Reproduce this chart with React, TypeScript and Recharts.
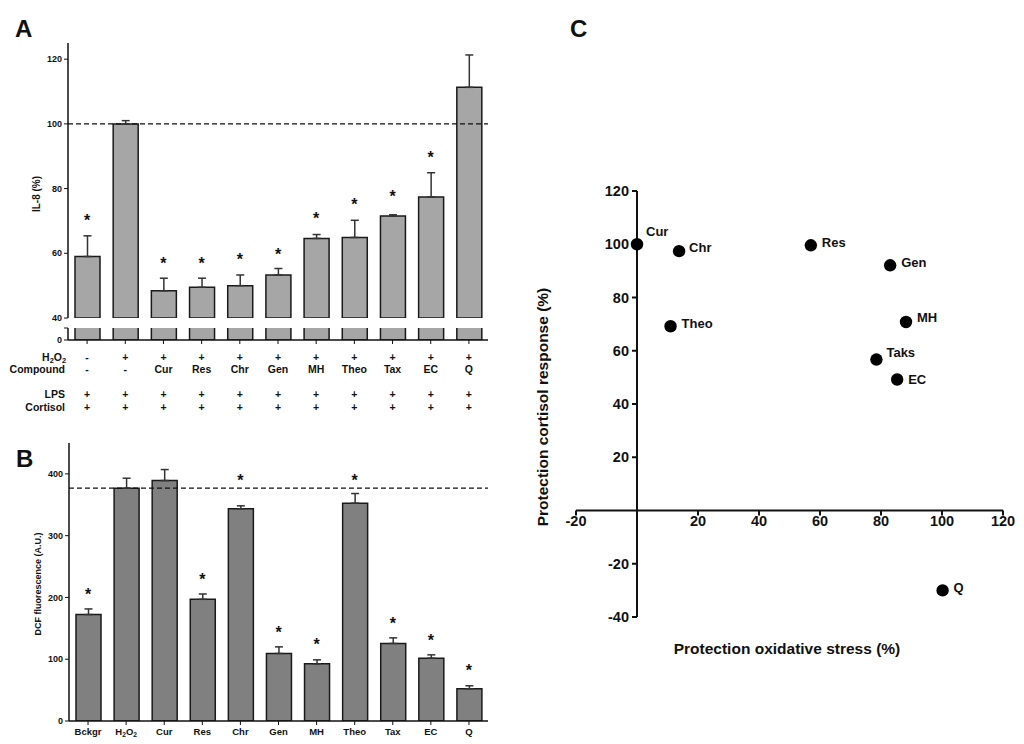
import React from "react";
import {
  ComposedChart,
  ScatterChart,
  Bar,
  Scatter,
  XAxis,
  YAxis,
  ErrorBar,
  ReferenceLine,
  ReferenceDot,
} from "recharts";

const FONT = "'Liberation Sans', Arial, sans-serif";
const INK = "#111";

// shared categories (panels A and B)
const groups = ["Bckgr", "H2O2", "Cur", "Res", "Chr", "Gen", "MH", "Theo", "Tax", "EC", "Q"];

// panel A: IL-8 (%)
const il8Mean = [59, 100, 48.4, 49.5, 50, 53.3, 64.6, 64.9, 71.5, 77.4, 111.3];
const il8Err = [6.4, 1, 3.9, 2.8, 3.3, 2, 1.2, 5.3, 0.4, 7.5, 10];
const il8Star = [71.1, null, 57.9, 57.9, 59.1, 60.8, 71.8, 76.1, 78.7, 90.6, null];
const il8Ticks = [40, 60, 80, 100, 120];

// treatment table under panel A
const rowH2O2 = ["-", "+", "+", "+", "+", "+", "+", "+", "+", "+", "+"];
const rowCompound = ["-", "-", "Cur", "Res", "Chr", "Gen", "MH", "Theo", "Tax", "EC", "Q"];
const rowLPS = ["+", "+", "+", "+", "+", "+", "+", "+", "+", "+", "+"];
const rowCortisol = ["+", "+", "+", "+", "+", "+", "+", "+", "+", "+", "+"];

// panel B: DCF fluorescence (A.U.)
const dcfMean = [172.3, 376.8, 389.2, 197, 343.5, 109.3, 92.6, 352.6, 125.5, 101.7, 52.2];
const dcfErr = [9.1, 16.2, 17.8, 8.6, 4.8, 10.7, 6.4, 15.6, 9.1, 5.4, 4.8];
const dcfStar = [210.4, null, null, 234.7, 395.7, 148.6, 129.7, 395.7, 163, 135.2, 87.7];
const dcfTicks = [0, 100, 200, 300, 400];

// panel C: protection scatter
const cNames = ["Cur", "Chr", "Res", "Gen", "Theo", "MH", "Taks", "EC", "Q"];
const cOxidative = [0, 13.8, 57, 83, 11, 88.2, 78.5, 85.3, 100.2];
const cCortisol = [100, 97.4, 99.6, 92.1, 69.2, 70.8, 56.7, 49.2, -30];
const cXTicks = [-20, 20, 40, 60, 80, 100, 120];
const cYTicks = [-40, -20, 20, 40, 60, 80, 100, 120];

const labelOffsetC: Record<string, [number, number]> = {
  Cur: [9, -13],
  Chr: [10, -4],
  Res: [11, -3],
  Gen: [11, -3],
  Theo: [11, -3],
  MH: [11, -4],
  Taks: [10, -7],
  EC: [11, 0],
  Q: [11, -3],
};

const dataA = groups.map((name, i) => ({
  name,
  il8: il8Mean[i],
  il8Err: [0, il8Err[i]],
  star: il8Star[i],
  h2o2: rowH2O2[i],
  compound: rowCompound[i],
  lps: rowLPS[i],
  cortisol: rowCortisol[i],
}));

const dataB = groups.map((name, i) => ({
  name,
  dcf: dcfMean[i],
  dcfErr: [0, dcfErr[i]],
  star: dcfStar[i],
}));

const dataC = cNames.map((name, i) => ({ name, x: cOxidative[i], y: cCortisol[i] }));

function H2O2Text({ x, y, size, anchor }: any) {
  return (
    <text
      x={x}
      y={y}
      fontSize={size}
      fontWeight="bold"
      fontFamily={FONT}
      fill={INK}
      textAnchor={anchor}
      dominantBaseline="central"
    >
      H<tspan fontSize={size * 0.7} dy={size * 0.3}>2</tspan>
      <tspan dy={-size * 0.3}>O</tspan>
      <tspan fontSize={size * 0.7} dy={size * 0.3}>2</tspan>
    </text>
  );
}

const StarShape = (props: any) => {
  const { cx, cy, payload } = props;
  if (payload == null || payload.star == null || !isFinite(cy)) return <g />;
  return (
    <text x={cx} y={cy + 9} textAnchor="middle" fontSize={16} fontWeight="bold" fontFamily={FONT} fill={INK}>
      *
    </text>
  );
};

const TableTick = (props: any) => {
  const { x, y, payload } = props;
  const row = dataA[payload.index] ?? dataA.find((d) => d.name === payload.value);
  if (!row) return <g />;
  const cell = (v: string, dy: number) => (
    <text x={x} y={y + dy} textAnchor="middle" dominantBaseline="central" fontSize={10.5} fontWeight="bold" fontFamily={FONT} fill={INK}>
      {v}
    </text>
  );
  return (
    <g>
      {cell(row.h2o2, 13)}
      {cell(row.compound, 25)}
      {cell(row.lps, 50)}
      {cell(row.cortisol, 63)}
    </g>
  );
};

const BTick = (props: any) => {
  const { x, y, payload } = props;
  if (payload.value === "H2O2") return <H2O2Text x={x} y={y + 6} size={9.5} anchor="middle" />;
  return (
    <text x={x} y={y + 6} textAnchor="middle" dominantBaseline="central" fontSize={9.5} fontWeight="bold" fontFamily={FONT} fill={INK}>
      {payload.value}
    </text>
  );
};

const BreakTick = (props: any) => {
  const { x, y, payload } = props;
  if (payload.value !== 0) return <g />;
  return (
    <text x={x} y={y} textAnchor="end" dominantBaseline="central" fontSize={9} fontWeight="bold" fontFamily={FONT} fill={INK}>
      0
    </text>
  );
};

const PointC = (props: any) => {
  const { cx, cy, payload } = props;
  const [dx, dy] = labelOffsetC[payload.name] ?? [10, -3];
  return (
    <g>
      <circle cx={cx} cy={cy} r={6.2} fill="#000" />
      <text x={cx + dx} y={cy + dy} dominantBaseline="central" fontSize={13} fontWeight="bold" fontFamily={FONT} fill={INK}>
        {payload.name}
      </text>
    </g>
  );
};

const axisTick = { fontSize: 9, fontWeight: "bold", fill: INK, fontFamily: FONT };

export default function App() {
  return (
    <div style={{ position: "absolute", left: 0, top: 0, width: 1024, height: 744, background: "#fff", fontFamily: FONT }}>
      {/* panel A, upper segment */}
      <div style={{ position: "absolute", left: 0, top: 0 }}>
        <ComposedChart width={500} height={326} data={dataA} margin={{ top: 43, right: 12, left: 0, bottom: 8 }} barSize={25}>
          <XAxis dataKey="name" hide />
          <YAxis
            domain={[40, 125]}
            ticks={il8Ticks}
            interval={0}
            allowDataOverflow
            width={68}
            tickSize={4}
            tickMargin={2}
            axisLine={{ stroke: INK, strokeWidth: 1.5 }}
            tickLine={{ stroke: INK }}
            tick={axisTick}
          />
          <ReferenceLine y={100} stroke={INK} strokeDasharray="5 3" strokeWidth={1.2} />
          <Bar dataKey="il8" fill="#a6a6a6" stroke="#1a1a1a" strokeWidth={1.5} isAnimationActive={false}>
            <ErrorBar dataKey="il8Err" width={4} stroke="#333" strokeWidth={1.5} direction="y" />
          </Bar>
          <Scatter dataKey="star" shape={<StarShape />} isAnimationActive={false} />
        </ComposedChart>
      </div>

      {/* panel A, lower segment with treatment table */}
      <div style={{ position: "absolute", left: 0, top: 320 }}>
        <ComposedChart width={500} height={100} data={dataA} margin={{ top: 8, right: 12, left: 0, bottom: 0 }} barSize={25}>
          <XAxis
            dataKey="name"
            height={80}
            interval={0}
            tickSize={4}
            tickMargin={0}
            axisLine={{ stroke: INK, strokeWidth: 1.5 }}
            tickLine={{ stroke: INK }}
            tick={<TableTick />}
          />
          <YAxis
            domain={[0, 40]}
            ticks={[0, 40]}
            interval={0}
            allowDataOverflow
            width={68}
            tickSize={4}
            tickMargin={2}
            axisLine={{ stroke: INK, strokeWidth: 1.5 }}
            tickLine={{ stroke: INK }}
            tick={<BreakTick />}
          />
          <Bar dataKey="il8" fill="#a6a6a6" stroke="#1a1a1a" strokeWidth={1.5} isAnimationActive={false} />
        </ComposedChart>
      </div>

      {/* panel B */}
      <div style={{ position: "absolute", left: 0, top: 430 }}>
        <ComposedChart width={500} height={314} data={dataB} margin={{ top: 13, right: 12, left: 0, bottom: 0 }} barSize={25}>
          <XAxis
            dataKey="name"
            height={23}
            interval={0}
            tickSize={4}
            tickMargin={0}
            axisLine={{ stroke: INK, strokeWidth: 1.5 }}
            tickLine={{ stroke: INK }}
            tick={<BTick />}
          />
          <YAxis
            domain={[0, 450]}
            ticks={dcfTicks}
            interval={0}
            allowDataOverflow
            width={69}
            tickSize={4}
            tickMargin={2}
            axisLine={{ stroke: INK, strokeWidth: 1.5 }}
            tickLine={{ stroke: INK }}
            tick={axisTick}
          />
          <ReferenceLine y={dcfMean[1]} stroke={INK} strokeDasharray="5 3" strokeWidth={1.2} />
          <Bar dataKey="dcf" fill="#808080" stroke="#1a1a1a" strokeWidth={1.5} isAnimationActive={false}>
            <ErrorBar dataKey="dcfErr" width={4} stroke="#333" strokeWidth={1.5} direction="y" />
          </Bar>
          <Scatter dataKey="star" shape={<StarShape />} isAnimationActive={false} />
        </ComposedChart>
      </div>

      {/* panel C */}
      <div style={{ position: "absolute", left: 520, top: 150 }}>
        <ScatterChart width={504} height={520} margin={{ top: 41, right: 21, left: 56, bottom: 53 }}>
          <XAxis type="number" dataKey="x" domain={[-20, 120]} allowDataOverflow hide />
          <YAxis type="number" dataKey="y" domain={[-40, 120]} allowDataOverflow hide />
          <ReferenceLine segment={[{ x: -20, y: 0 }, { x: 120, y: 0 }]} stroke={INK} strokeWidth={2} />
          <ReferenceLine segment={[{ x: 0, y: -40 }, { x: 0, y: 120 }]} stroke={INK} strokeWidth={2} />
          {cXTicks.map((t) => (
            <ReferenceDot
              key={"x" + t}
              x={t}
              y={0}
              r={1}
              shape={(p: any) => (
                <g>
                  <line x1={p.cx} y1={p.cy} x2={p.cx} y2={p.cy + 5} stroke={INK} strokeWidth={2} />
                  <text x={p.cx} y={p.cy + 10} textAnchor="middle" dominantBaseline="central" fontSize={14.5} fontWeight="bold" fontFamily={FONT} fill={INK}>
                    {t}
                  </text>
                </g>
              )}
            />
          ))}
          {cYTicks.map((t) => (
            <ReferenceDot
              key={"y" + t}
              x={0}
              y={t}
              r={1}
              shape={(p: any) => (
                <g>
                  <line x1={p.cx - 5} y1={p.cy} x2={p.cx} y2={p.cy} stroke={INK} strokeWidth={2} />
                  <text x={p.cx - 8} y={p.cy} textAnchor="end" dominantBaseline="central" fontSize={14.5} fontWeight="bold" fontFamily={FONT} fill={INK}>
                    {t}
                  </text>
                </g>
              )}
            />
          ))}
          <Scatter data={dataC} shape={<PointC />} isAnimationActive={false} />
        </ScatterChart>
      </div>

      {/* panel letters, axis titles, table row labels */}
      <svg width={1024} height={744} style={{ position: "absolute", left: 0, top: 0, pointerEvents: "none" }}>
        <g fontFamily={FONT} fontWeight="bold" fill={INK}>
          <text x={15} y={37} fontSize={24}>A</text>
          <text x={16} y={467} fontSize={24}>B</text>
          <text x={570} y={37} fontSize={24}>C</text>

          <text x={36} y={194} fontSize={10} textAnchor="middle" dominantBaseline="central" transform="rotate(-90 36 194)">
            IL-8 (%)
          </text>
          <text x={37.5} y={584} fontSize={9} textAnchor="middle" dominantBaseline="central" transform="rotate(-90 37.5 584)">
            DCF fluorescence (A.U.)
          </text>

          <text x={542} y={407} fontSize={15.5} textAnchor="middle" dominantBaseline="central" transform="rotate(-90 542 407)">
            Protection  cortisol response (%)
          </text>
          <text x={787} y={648} fontSize={15.5} textAnchor="middle" dominantBaseline="central">
            Protection oxidative stress (%)
          </text>

          <text x={65} y={369} fontSize={10.5} textAnchor="end" dominantBaseline="central">Compound</text>
          <text x={65} y={394} fontSize={10.5} textAnchor="end" dominantBaseline="central">LPS</text>
          <text x={65} y={407} fontSize={10.5} textAnchor="end" dominantBaseline="central">Cortisol</text>
        </g>
        <H2O2Text x={66} y={357} size={10.5} anchor="end" />
      </svg>
    </div>
  );
}
